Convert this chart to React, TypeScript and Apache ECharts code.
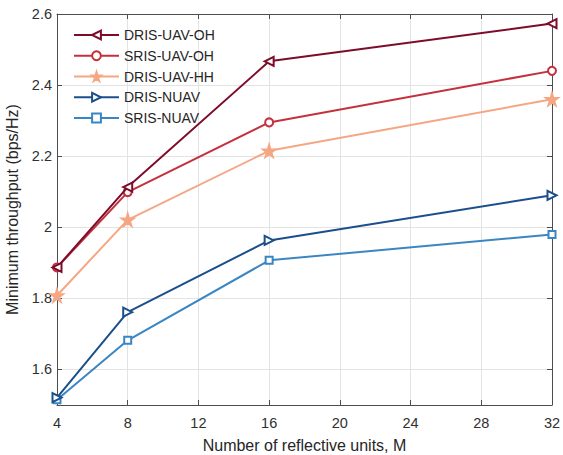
import React, { useEffect, useRef } from "react";
import * as echarts from "echarts";

const xValues = [4, 8, 16, 32];
const seriesNames = ["DRIS-UAV-OH", "SRIS-UAV-OH", "DRIS-UAV-HH", "DRIS-NUAV", "SRIS-NUAV"];
const drisUavOh = [1.887, 2.113, 2.467, 2.573];
const srisUavOh = [1.887, 2.099, 2.295, 2.44];
const drisUavHh = [1.808, 2.021, 2.215, 2.36];
const drisNuav = [1.521, 1.761, 1.963, 2.09];
const srisNuav = [1.515, 1.682, 1.907, 1.98];
const colors = ["#7d0c2a", "#c5303d", "#f5a784", "#1b4f8c", "#3a86c3"];

const STAR = "path://M50,0 L61,35 L98,35 L68,57 L79,91 L50,70 L21,91 L32,57 L2,35 L39,35 Z";

const FONT = "'Liberation Sans', Arial, Helvetica, sans-serif";

export default function App() {
  const ref = useRef<HTMLDivElement>(null);
  useEffect(() => {
    if (!ref.current) return;
    const chart = echarts.init(ref.current, null, { renderer: "svg" });
    const allData = [drisUavOh, srisUavOh, drisUavHh, drisNuav, srisNuav];
    const symbols = ["emptyTriangle", "emptyCircle", STAR, "emptyTriangle", "emptyRect"];
    const rotations = [90, 0, 0, -90, 0];
    const sizes = [9, 8, 12, 9, 7];
    const series = allData.map((d, i) => ({
      name: seriesNames[i],
      type: "line",
      data: xValues.map((x, j) => [x, d[j]]),
      symbol: symbols[i],
      symbolSize: sizes[i],
      symbolRotate: rotations[i],
      showAllSymbol: true,
      lineStyle: { color: colors[i], width: 2 },
      itemStyle: { color: colors[i], borderColor: colors[i], borderWidth: 2 },
      z: 10 - i,
    }));
    const axisLineStyle = { color: "#4d4d4d", width: 1 };
    chart.setOption({
      animation: false,
      textStyle: { fontFamily: FONT },
      grid: { left: 57, right: 11, top: 14, bottom: 50, show: false, containLabel: false, outerBoundsMode: "none" },
      legend: {
        orient: "vertical",
        left: 73,
        top: 28,
        padding: 0,
        itemWidth: 45,
        itemHeight: 11,
        itemGap: 6.75,
        data: seriesNames,
        textStyle: { fontSize: 14, color: "#262626", fontFamily: FONT },
      },
      xAxis: [
        {
          type: "value",
          min: 4,
          max: 32,
          interval: 4,
          name: "Number of reflective units, M",
          nameLocation: "middle",
          nameGap: 32,
          nameTextStyle: { fontSize: 16, color: "#262626", fontFamily: FONT },
          axisLine: { show: true, lineStyle: axisLineStyle },
          axisTick: { show: true, inside: true, length: 5, lineStyle: axisLineStyle },
          axisLabel: { fontSize: 14.5, color: "#303030", margin: 10, fontFamily: FONT },
          splitLine: { show: true, lineStyle: { color: "#e3e3e3", width: 1 } },
        },
        {
          type: "value",
          position: "top",
          min: 4,
          max: 32,
          interval: 4,
          axisLine: { show: true, lineStyle: axisLineStyle },
          axisTick: { show: true, inside: true, length: 5, lineStyle: axisLineStyle },
          axisLabel: { show: false },
          splitLine: { show: false },
        },
      ],
      yAxis: [
        {
          type: "value",
          min: 1.5,
          max: 2.6,
          splitNumber: 5,
          name: "Minimum throughput (bps/Hz)",
          nameLocation: "middle",
          nameGap: 28,
          nameTextStyle: { fontSize: 16, color: "#262626", fontFamily: FONT },
          axisLine: { show: true, lineStyle: axisLineStyle },
          axisTick: { show: true, inside: true, length: 5, lineStyle: axisLineStyle },
          axisLabel: {
            fontSize: 14.5,
            color: "#303030",
            margin: 5,
            fontFamily: FONT,
            formatter: (v: number) => (Math.abs(v - 1.5) < 1e-6 ? "" : String(Math.round(v * 10) / 10)),
          },
          splitLine: { show: true, lineStyle: { color: "#e3e3e3", width: 1 } },
        },
        {
          type: "value",
          position: "right",
          min: 1.5,
          max: 2.6,
          splitNumber: 5,
          axisLine: { show: true, lineStyle: axisLineStyle },
          axisTick: { show: true, inside: true, length: 5, lineStyle: axisLineStyle },
          axisLabel: { show: false },
          splitLine: { show: false },
        },
      ],
      series,
    });
    return () => chart.dispose();
  }, []);
  return (
    <div
      ref={ref}
      style={{ position: "absolute", left: 0, top: 0, width: 563, height: 455, background: "#fff" }}
    />
  );
}
